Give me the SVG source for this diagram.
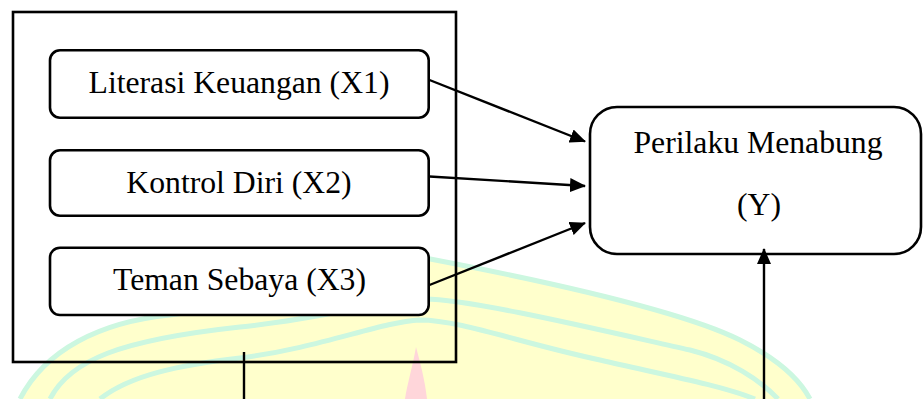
<svg xmlns="http://www.w3.org/2000/svg" width="924" height="399" viewBox="0 0 924 399">
  <style>
    .box { fill: #ffffff; stroke: #000000; stroke-width: 2.6; }
    .frame { fill: none; stroke: #000000; stroke-width: 2.6; }
    .lbl { font-family: "Liberation Serif", "Times New Roman", serif; font-size: 31.7px; fill: #000000; text-anchor: middle; }
    .edge { fill: none; stroke: #000000; stroke-width: 2.4; }
    .stripe { fill: none; stroke: #ccf7e0; stroke-width: 5; }
  </style>
  <defs>
    <marker id="arr" viewBox="0 0 16 14" refX="15" refY="7" markerWidth="16" markerHeight="14" markerUnits="userSpaceOnUse" orient="auto">
      <path d="M0,0 L16,7 L0,14 z" fill="#000000"/>
    </marker>
  </defs>
  <rect x="0" y="0" width="924" height="399" fill="#ffffff"/>

  <!-- faint watermark -->
  <g id="watermark">
    <path d="M20,399 C45,350 100,322 170,315 C260,305 360,265 425,258 C540,280 680,310 740,340 C780,360 800,380 810,399 Z" fill="#ffffcc"/>
    <path class="stripe" d="M20,399 C45,350 100,322 170,315 C260,305 360,265 425,258 C540,280 680,310 740,340 C780,360 800,380 810,399"/>
    <path class="stripe" d="M50,399 C70,360 120,340 240,327 C330,318 380,300 425,299 C470,299 600,330 690,350 C730,360 760,380 778,399"/>
    <path class="stripe" d="M100,399 C130,375 180,365 240,358 C320,348 380,322 420,320 C460,320 520,343 600,360 C660,374 720,385 755,399"/>
    <path d="M416,347 C413,365 407,385 405,399 L427,399 C425,380 420,362 416,347 Z" fill="#ffd6da"/>
  </g>

  <g id="group-frame">
    <rect class="frame" x="13" y="12" width="443" height="350"/>
  </g>

  <g id="node-x1">
    <rect class="box" x="50" y="50.3" width="378.7" height="67.4" rx="10"/>
    <text class="lbl" x="239" y="93">Literasi Keuangan (X1)</text>
  </g>
  <g id="node-x2">
    <rect class="box" x="50" y="150.3" width="378.7" height="65.4" rx="10"/>
    <text class="lbl" x="239" y="192.5">Kontrol Diri (X2)</text>
  </g>
  <g id="node-x3">
    <rect class="box" x="50" y="247.7" width="378.7" height="67.3" rx="10"/>
    <text class="lbl" x="239.5" y="290">Teman Sebaya (X3)</text>
  </g>
  <g id="node-y">
    <rect class="box" x="590" y="107" width="331" height="147" rx="27"/>
    <text class="lbl" x="758" y="153">Perilaku Menabung</text>
    <text class="lbl" x="759" y="215">(Y)</text>
  </g>

  <g id="connectors">
    <line class="edge" x1="429.5" y1="80" x2="585" y2="141.5" marker-end="url(#arr)"/>
    <line class="edge" x1="429.5" y1="176.5" x2="585" y2="186" marker-end="url(#arr)"/>
    <line class="edge" x1="429.5" y1="285" x2="585" y2="223" marker-end="url(#arr)"/>
    <line class="edge" x1="244" y1="352" x2="244" y2="399"/>
    <line class="edge" x1="764" y1="399" x2="764" y2="249" marker-end="url(#arr)"/>
  </g>
</svg>
